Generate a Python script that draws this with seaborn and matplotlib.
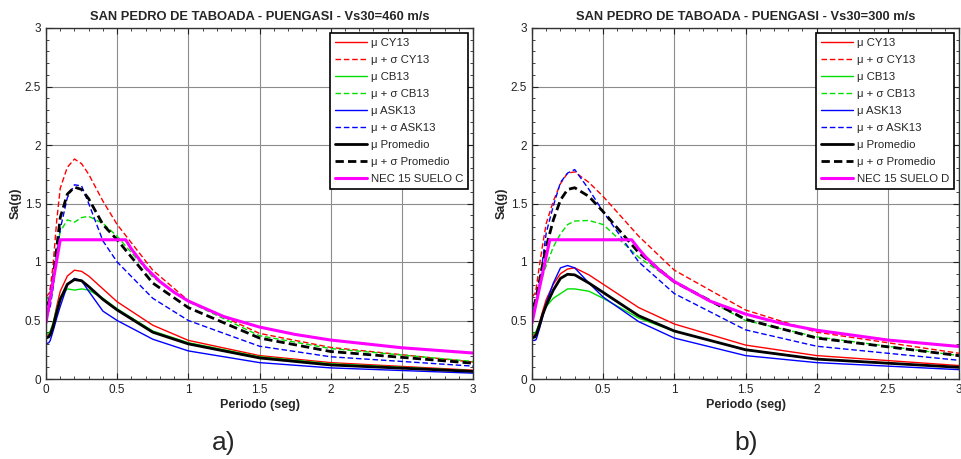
import matplotlib
matplotlib.use("Agg")
import matplotlib.pyplot as plt
from matplotlib.ticker import MultipleLocator
import seaborn as sns
import pandas as pd

# Spectral periods (s)
periods = [0.0, 0.02, 0.03, 0.05, 0.075, 0.1, 0.15, 0.2, 0.25, 0.3, 0.4, 0.5, 0.75, 1.0, 1.5, 2.0, 3.0]

# Vs30 = 460 m/s
a_cy13_mu = [0.37, 0.38, 0.40, 0.47, 0.62, 0.75, 0.88, 0.93, 0.92, 0.88, 0.77, 0.66, 0.46, 0.33, 0.20, 0.14, 0.075]
a_cy13_ms = [0.70, 0.73, 0.78, 0.98, 1.35, 1.63, 1.81, 1.88, 1.84, 1.75, 1.52, 1.32, 0.93, 0.67, 0.39, 0.27, 0.145]
a_cb13_mu = [0.38, 0.39, 0.41, 0.48, 0.60, 0.70, 0.77, 0.76, 0.77, 0.76, 0.69, 0.60, 0.41, 0.31, 0.19, 0.13, 0.07]
a_cb13_ms = [0.67, 0.70, 0.74, 0.88, 1.10, 1.26, 1.36, 1.34, 1.38, 1.39, 1.33, 1.22, 0.87, 0.66, 0.37, 0.26, 0.15]
a_ask13_mu = [0.30, 0.31, 0.33, 0.41, 0.52, 0.62, 0.80, 0.86, 0.84, 0.75, 0.58, 0.50, 0.34, 0.24, 0.14, 0.095, 0.05]
a_ask13_ms = [0.55, 0.58, 0.62, 0.78, 1.05, 1.28, 1.55, 1.66, 1.65, 1.50, 1.18, 1.00, 0.69, 0.50, 0.28, 0.19, 0.11]
a_prom_mu = [0.35, 0.36, 0.38, 0.45, 0.57, 0.68, 0.81, 0.85, 0.84, 0.79, 0.68, 0.59, 0.40, 0.30, 0.18, 0.12, 0.065]
a_prom_ms = [0.63, 0.66, 0.70, 0.85, 1.12, 1.38, 1.58, 1.64, 1.62, 1.54, 1.32, 1.19, 0.82, 0.61, 0.35, 0.235, 0.135]

# Vs30 = 300 m/s
b_cy13_mu = [0.37, 0.38, 0.40, 0.47, 0.58, 0.68, 0.81, 0.90, 0.94, 0.95, 0.89, 0.81, 0.61, 0.47, 0.29, 0.20, 0.115]
b_cy13_ms = [0.70, 0.73, 0.78, 0.95, 1.15, 1.33, 1.52, 1.67, 1.76, 1.77, 1.68, 1.56, 1.22, 0.93, 0.59, 0.40, 0.22]
b_cb13_mu = [0.38, 0.39, 0.41, 0.47, 0.55, 0.62, 0.69, 0.73, 0.77, 0.77, 0.75, 0.69, 0.52, 0.41, 0.25, 0.17, 0.10]
b_cb13_ms = [0.60, 0.62, 0.66, 0.76, 0.88, 0.97, 1.13, 1.24, 1.32, 1.35, 1.355, 1.32, 1.04, 0.83, 0.50, 0.36, 0.20]
b_ask13_mu = [0.33, 0.33, 0.34, 0.42, 0.53, 0.65, 0.82, 0.95, 0.97, 0.95, 0.82, 0.70, 0.49, 0.35, 0.20, 0.14, 0.08]
b_ask13_ms = [0.58, 0.61, 0.66, 0.80, 1.02, 1.25, 1.48, 1.68, 1.76, 1.79, 1.62, 1.43, 1.00, 0.73, 0.42, 0.28, 0.16]
b_prom_mu = [0.35, 0.36, 0.38, 0.45, 0.55, 0.63, 0.76, 0.86, 0.895, 0.89, 0.82, 0.74, 0.54, 0.41, 0.25, 0.17, 0.10]
b_prom_ms = [0.62, 0.65, 0.70, 0.82, 0.98, 1.13, 1.36, 1.53, 1.62, 1.635, 1.56, 1.43, 1.08, 0.83, 0.51, 0.35, 0.20]

# NEC-15 design spectra
nec_c_t = [0.0, 0.1, 0.56, 0.6, 0.7, 0.8, 0.9, 1.0, 1.25, 1.5, 1.75, 2.0, 2.5, 3.0]
nec_c_sa = [0.48, 1.19, 1.19, 1.111, 0.952, 0.833, 0.741, 0.666, 0.533, 0.444, 0.381, 0.333, 0.267, 0.222]
nec_d_t = [0.0, 0.125, 0.7, 0.75, 0.8, 0.9, 1.0, 1.25, 1.5, 1.75, 2.0, 2.5, 3.0]
nec_d_sa = [0.48, 1.19, 1.19, 1.111, 1.041, 0.926, 0.833, 0.666, 0.555, 0.476, 0.417, 0.333, 0.278]

titles = ["SAN PEDRO DE TABOADA - PUENGASI - Vs30=460 m/s",
          "SAN PEDRO DE TABOADA - PUENGASI - Vs30=300 m/s"]
captions = ["a)", "b)"]
caption_x = [224 / 962, 746 / 962]
nec_labels = ["NEC 15 SUELO C", "NEC 15 SUELO D"]
series_labels = ["\u03bc CY13", "\u03bc + \u03c3 CY13", "\u03bc CB13", "\u03bc + \u03c3 CB13",
                 "\u03bc ASK13", "\u03bc + \u03c3 ASK13", "\u03bc Promedio", "\u03bc + \u03c3 Promedio"]

panels = [
    ([a_cy13_mu, a_cy13_ms, a_cb13_mu, a_cb13_ms, a_ask13_mu, a_ask13_ms, a_prom_mu, a_prom_ms],
     nec_c_t, nec_c_sa),
    ([b_cy13_mu, b_cy13_ms, b_cb13_mu, b_cb13_ms, b_ask13_mu, b_ask13_ms, b_prom_mu, b_prom_ms],
     nec_d_t, nec_d_sa),
]

styles = [
    ("#ff0000", "-", 1.0), ("#ff0000", (0, (4, 2)), 1.0),
    ("#00e000", "-", 1.0), ("#00e000", (0, (4, 2)), 1.0),
    ("#0000ff", "-", 1.0), ("#0000ff", (0, (4, 2)), 1.0),
    ("#000000", "-", 2.0), ("#000000", (0, (3, 1.5)), 2.0),
]

sns.set_style("ticks")
plt.rcParams["font.family"] = ["Liberation Sans", "DejaVu Sans"]

fig = plt.figure(figsize=(9.62, 4.59), dpi=100)
lefts = [46 / 962, 532 / 962]

for k, (series, nt, nsa) in enumerate(panels):
    ax = fig.add_axes([lefts[k], 1 - 379 / 459, 427 / 962, 351 / 459])
    for lab, vals, (col, ls, lw) in zip(series_labels, series, styles):
        df = pd.DataFrame({"T": periods, "Sa": vals})
        sns.lineplot(data=df, x="T", y="Sa", ax=ax, color=col, linestyle=ls,
                     linewidth=lw, label=lab, sort=False)
    dfn = pd.DataFrame({"T": nt, "Sa": nsa})
    sns.lineplot(data=dfn, x="T", y="Sa", ax=ax, color="#ff00ff", linewidth=2.2,
                 label=nec_labels[k], sort=False)

    ax.set_xlim(0, 3)
    ax.set_ylim(0, 3)
    ax.xaxis.set_major_locator(MultipleLocator(0.5))
    ax.yaxis.set_major_locator(MultipleLocator(0.5))
    ax.xaxis.set_minor_locator(MultipleLocator(0.1))
    ax.yaxis.set_minor_locator(MultipleLocator(0.1))
    ax.tick_params(which="both", direction="in", top=True, right=True,
                   labelsize=8.5, colors="#222222")
    ax.tick_params(which="major", length=4)
    ax.tick_params(which="minor", length=2)
    ax.set_xticks([0, 0.5, 1, 1.5, 2, 2.5, 3])
    ax.set_xticklabels(["0", "0.5", "1", "1.5", "2", "2.5", "3"])
    ax.set_yticks([0, 0.5, 1, 1.5, 2, 2.5, 3])
    ax.set_yticklabels(["0", "0.5", "1", "1.5", "2", "2.5", "3"])
    ax.grid(True, which="major", color="#8c8c8c", linewidth=0.8)
    for sp in ax.spines.values():
        sp.set_color("#333333")
        sp.set_linewidth(1.0)
    ax.set_xlabel("Periodo (seg)", fontsize=9, fontweight="bold", labelpad=2)
    ax.set_ylabel("Sa(g)", fontsize=9, fontweight="bold", labelpad=2)
    ax.set_title(titles[k], fontsize=9.3, fontweight="bold", pad=6)

    leg = ax.legend(loc="upper right", fontsize=8.2, frameon=True, fancybox=False,
                    edgecolor="black", framealpha=1, handlelength=2.8,
                    labelspacing=0.62, borderaxespad=0.45, handletextpad=0.35,
                    borderpad=0.42)
    leg.get_frame().set_linewidth(1.2)

    fig.text(caption_x[k], 1 - 443 / 459, captions[k],
             fontsize=19, ha="center", va="center")

fig.savefig("out.png", dpi=100)
